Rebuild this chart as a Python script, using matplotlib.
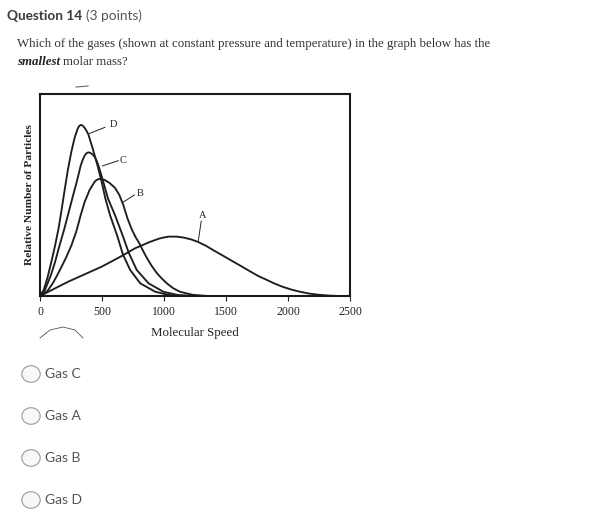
import matplotlib
matplotlib.use('Agg')
import matplotlib.pyplot as plt
from matplotlib.lines import Line2D
from matplotlib.patches import Circle

# curves (speed, relative number)
speed_a = [0, 228, 497, 650, 766, 887, 960, 1000, 1040, 1100, 1160, 1220, 1277, 1340, 1400, 1480,
           1559, 1630, 1700, 1760, 1828, 1890, 1950, 2020, 2097, 2170, 2250, 2330, 2400]
count_a = [0, 0.071, 0.145, 0.195, 0.236, 0.268, 0.284, 0.29, 0.294, 0.294, 0.289, 0.28, 0.267, 0.248,
           0.226, 0.198, 0.17, 0.145, 0.12, 0.099, 0.08, 0.062, 0.047, 0.033, 0.021, 0.012, 0.006, 0.002, 0]

speed_b = [0, 60, 100, 132, 170, 210, 253, 293, 328, 360, 400, 440, 455, 475, 495, 520, 560, 605,
           640, 672, 705, 740, 772, 800, 830, 865, 900, 940, 980, 1022, 1075, 1129, 1230, 1350]
count_b = [0, 0.025, 0.06, 0.095, 0.14, 0.19, 0.25, 0.32, 0.40, 0.465, 0.525, 0.565, 0.574, 0.579,
           0.579, 0.575, 0.56, 0.535, 0.50, 0.45, 0.385, 0.33, 0.29, 0.262, 0.225, 0.185, 0.15, 0.115,
           0.088, 0.063, 0.038, 0.021, 0.006, 0]

speed_c = [0, 40, 86, 120, 151, 195, 240, 270, 295, 328, 345, 360, 375, 390, 405, 425, 440, 455,
           470, 510, 548, 605, 670, 715, 780, 875, 995, 1110, 1250]
count_c = [0, 0.03, 0.10, 0.165, 0.236, 0.33, 0.435, 0.505, 0.562, 0.645, 0.675, 0.695, 0.707, 0.711,
           0.709, 0.70, 0.69, 0.672, 0.648, 0.566, 0.483, 0.40, 0.294, 0.215, 0.129, 0.063, 0.021,
           0.005, 0]

speed_d = [0, 30, 60, 90, 120, 150, 175, 200, 225, 253, 280, 305, 317, 330, 343, 358, 375, 390,
           425, 462, 497, 527, 565, 625, 668, 727, 808, 929, 1040, 1150]
count_d = [0, 0.03, 0.09, 0.165, 0.245, 0.335, 0.43, 0.53, 0.625, 0.715, 0.785, 0.83, 0.842, 0.847,
           0.844, 0.834, 0.818, 0.80, 0.73, 0.65, 0.566, 0.483, 0.40, 0.294, 0.207, 0.129, 0.063,
           0.021, 0.005, 0]

# curve labels: name, text pos, leader start, leader end
labels = ['A', 'B', 'C', 'D']
label_pos = [(1310, 0.40), (806, 0.505), (672, 0.673), (591, 0.847)]
leader_from = [(1300, 0.37), (761, 0.50), (631, 0.67), (524, 0.835)]
leader_to = [(1277, 0.275), (672, 0.465), (505, 0.644), (400, 0.805)]

xticks = [0, 500, 1000, 1500, 2000, 2500]
options = ['Gas C', 'Gas A', 'Gas B', 'Gas D']

W, H = 589, 532
fig = plt.figure(figsize=(W / 100, H / 100), dpi=100)
fig.patch.set_facecolor('white')

def fx(px):
    return px / W

def fy(py):
    return 1 - py / H

serif = ['Liberation Serif', 'DejaVu Serif']
sans = ['Lato', 'DejaVu Sans']
r = fig.canvas.get_renderer()

# header
t = fig.text(fx(7), fy(16), 'Question 14', family=sans, fontweight='bold', fontsize=9.8,
             color='#3a3a3a', va='center')
bb = t.get_window_extent(r)
fig.text(bb.x1 / W + fx(4), fy(16), '(3 points)', family=sans, fontsize=9.8, color='#555555',
         va='center')

fig.text(fx(17), fy(44), 'Which of the gases (shown at constant pressure and temperature) in the graph below has the',
         family=serif, fontsize=9.25, color='#333333', va='center')
t = fig.text(fx(17), fy(62), 'smallest', family=serif, fontsize=9.25, color='#222222',
             fontweight='bold', style='italic', va='center')
bb = t.get_window_extent(r)
fig.text(bb.x1 / W + fx(3), fy(62), 'molar mass?', family=serif, fontsize=9.25,
         color='#333333', va='center')

# chart
ax = fig.add_axes([fx(40), fy(296), fx(310), 202 / H])
for sx, sy in [(speed_a, count_a), (speed_b, count_b), (speed_c, count_c), (speed_d, count_d)]:
    ax.plot(sx, sy, color='#1e1e1e', lw=1.35, solid_capstyle='round', solid_joinstyle='round')

for name, p, a, b in zip(labels, label_pos, leader_from, leader_to):
    ax.text(p[0], p[1], name, family=serif, fontsize=7.5, ha='center', va='center', color='#222222')
    ax.plot([a[0], b[0]], [a[1], b[1]], color='#222222', lw=0.7)

ax.set_xlim(0, 2500)
ax.set_ylim(0, 1)
ax.set_xticks(xticks)
ax.set_xticklabels([str(v) for v in xticks], family=serif, fontsize=8.5)
ax.set_yticks([])
ax.tick_params(axis='x', direction='out', length=3.6, width=0.8, pad=3.8, colors='#222222')
for s in ax.spines.values():
    s.set_linewidth(1.5)
    s.set_color('#1a1a1a')
ax.set_xlabel('Molecular Speed', family=serif, fontsize=9.3, labelpad=6, color='#222222')
ax.set_ylabel('Relative Number of Particles', family=serif, fontsize=8.2, fontweight='bold',
              labelpad=4, color='#222222')

# scan marks
fig.add_artist(Line2D([fx(40), fx(50), fx(63), fx(75), fx(83)],
                      [fy(338), fy(330), fy(327), fy(330), fy(338)], color='#555555', lw=0.6))
fig.add_artist(Line2D([fx(76), fx(88)], [fy(87), fy(86)], color='#666666', lw=0.8))

# answer options
for i, opt in enumerate(options):
    cy = 374 + i * 42
    fig.add_artist(Circle((fx(31), fy(cy)), radius=8.3 / H, transform=fig.transFigure,
                          facecolor='#f6f8fb', edgecolor='#9a9a9a', lw=0.8))
    fig.text(fx(45), fy(cy), opt, family=sans, fontsize=10, color='#555555', va='center')

fig.savefig('out.png', dpi=100)
